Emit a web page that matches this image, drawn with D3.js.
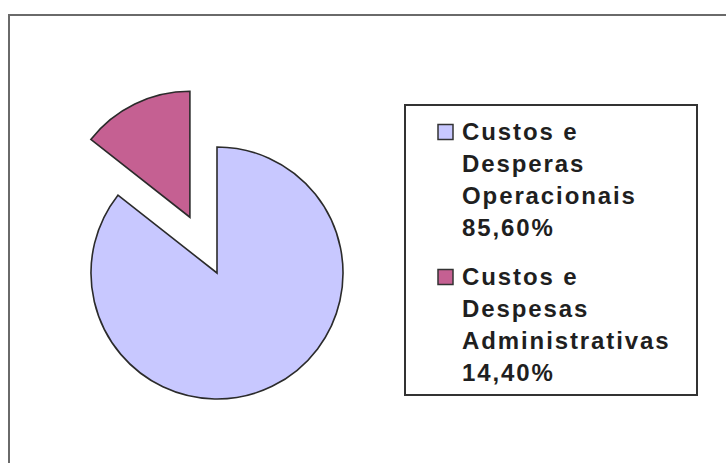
<!DOCTYPE html>
<html>
<head>
<meta charset="utf-8">
<script src="https://cdn.jsdelivr.net/npm/d3@7"></script>
<style>
  body { margin: 0; background: #fff; }
  svg { display: block; }
</style>
</head>
<body>
<svg id="chart" width="726" height="463"></svg>
<script>
// Data
const categories = [
  ["Custos e", "Desperas", "Operacionais"],
  ["Custos e", "Despesas", "Administrativas"]
];
const values = [85.6, 14.4];
const valueLabels = ["85,60%", "14,40%"];
const colors = ["#c8c8ff", "#c56092"];

const svg = d3.select("#chart");

// outer chart border (runs off the right / bottom of the picture)
svg.append("rect")
  .attr("x", 9).attr("y", 15)
  .attr("width", 740).attr("height", 470)
  .attr("fill", "none")
  .attr("stroke", "#6a6a6a")
  .attr("stroke-width", 2);

// Pie
const cx = 217, cy = 273, radius = 126;
const explode = [0, 62]; // second slice pulled out

const pie = d3.pie().sort(null).startAngle(0).endAngle(2 * Math.PI);
const arc = d3.arc().innerRadius(0).outerRadius(radius);
const arcs = pie(values);

const pieG = svg.append("g").attr("transform", `translate(${cx},${cy})`);

pieG.selectAll("path")
  .data(arcs)
  .join("path")
  .attr("d", arc)
  .attr("transform", (d, i) => {
    const mid = (d.startAngle + d.endAngle) / 2;
    const dx = Math.sin(mid) * explode[i];
    const dy = -Math.cos(mid) * explode[i];
    return `translate(${dx},${dy})`;
  })
  .attr("fill", (d, i) => colors[i])
  .attr("stroke", "#2b2b2b")
  .attr("stroke-width", 1.6)
  .attr("stroke-linejoin", "miter");

// Legend
const legend = svg.append("g");
legend.append("rect")
  .attr("x", 405).attr("y", 105)
  .attr("width", 292).attr("height", 290)
  .attr("fill", "#fff")
  .attr("stroke", "#333")
  .attr("stroke-width", 2);

const LINE_H = 32;
const ENTRY_Y = [140, 285];

const items = legend.selectAll("g.item")
  .data(categories)
  .join("g")
  .attr("class", "item")
  .attr("transform", (d, i) => `translate(0,${ENTRY_Y[i]})`);

items.append("rect")
  .attr("x", 438).attr("y", -15.5)
  .attr("width", 15).attr("height", 15)
  .attr("fill", (d, i) => colors[i])
  .attr("stroke", "#333")
  .attr("stroke-width", 1.5);

items.append("text")
  .attr("font-family", "'Liberation Sans', Arial, sans-serif")
  .attr("font-weight", "bold")
  .attr("font-size", 24)
  .attr("letter-spacing", "1.9px")
  .attr("fill", "#1f1f1f")
  .selectAll("tspan")
  .data((d, i) => d.concat([valueLabels[i]]))
  .join("tspan")
  .attr("x", 462)
  .attr("y", (d, j) => j * LINE_H)
  .text(d => d);
</script>
</body>
</html>
